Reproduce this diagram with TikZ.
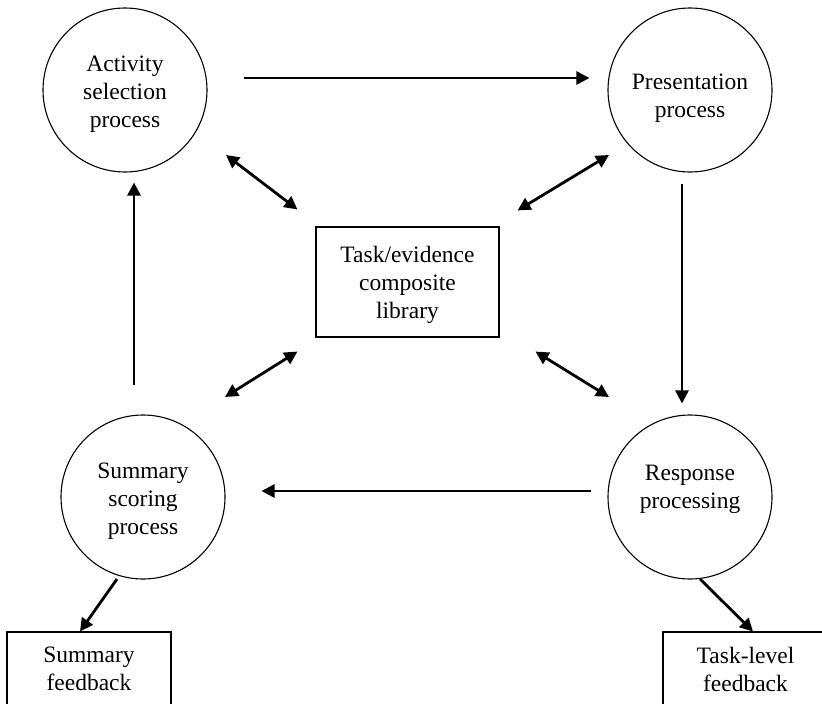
\documentclass[tikz,border=0pt]{standalone}
\usepackage{fontspec}
\setmainfont{Liberation Serif}
\usetikzlibrary{arrows.meta,calc}
\begin{document}
\begin{tikzpicture}[x=1pt,y=-1pt,
  every node/.style={font=\fontsize{23.5}{28}\selectfont, align=center, inner sep=0pt},
  proc/.style={circle, draw, line width=1.1pt, minimum size=164pt},
  boxn/.style={rectangle, draw, line width=1.1pt},
  arr/.style={line width=2.8pt, -{Triangle[length=13pt,width=13pt]}},
  darr/.style={line width=2.8pt, {Triangle[length=13pt,width=13pt]}-{Triangle[length=13pt,width=13pt]}}]
\useasboundingbox (0,0) rectangle (822,704);
\clip (0,0) rectangle (822,704);
\node[proc] (act) at (125,90) {};
\node (actt) at (125,94) {Activity\\selection\\process};
\node[proc] (pres) at (690,90) {};
\node (prest) at (690,98) {Presentation\\process};
\node[proc] (sum) at (143,497) {};
\node (sumt) at (143,501) {Summary\\scoring\\process};
\node[proc] (resp) at (690,497) {};
\node (respt) at (690,489) {Response\\processing};
\node[boxn, minimum width=183pt, minimum height=110pt] (lib) at (407.5,282) {};
\node (libt) at (407.5,285) {Task/evidence\\composite\\library};
\node[boxn, minimum width=164pt, minimum height=74pt] (sfb) at (89,669) {Summary\\feedback};
\node[boxn, minimum width=165pt, minimum height=74pt] (tfb) at (745.5,669) {Task-level\\feedback};
% cycle
\draw[arr, shorten <=36pt, shorten >=18pt] ([yshift=12pt]act.east) -- ([yshift=12pt]pres.west);
\draw[arr, shorten <=11pt, shorten >=11pt] ([xshift=-8pt]pres.south) -- ([xshift=-8pt]resp.north);
\draw[arr, shorten <=16pt, shorten >=36pt] ([yshift=6pt]resp.west) -- ([yshift=6pt]sum.east);
\draw[arr, shorten <=29pt, shorten >=10pt] ([xshift=-9pt]sum.north) -- ([xshift=9pt]act.south);
% library links
\draw[darr] ($(act)+(101,65)$) -- ($(lib.north west)+(-18,-17)$);
\draw[darr] ($(pres)+(-81,65)$) -- ($(lib.north east)+(18,-16)$);
\draw[darr] ($(sum)+(82,-100)$) -- ($(lib.south west)+(-18,14)$);
\draw[darr] ($(resp)+(-81,-100)$) -- ($(lib.south east)+(36,14)$);
% feedback
\draw[arr] ($(sum)+(-26,82)$) -- ($(sfb.north)+(-9,0)$);
\draw[arr] ($(resp)+(10,82)$) -- ($(tfb.north)+(7.5,0)$);
\end{tikzpicture}
\end{document}
